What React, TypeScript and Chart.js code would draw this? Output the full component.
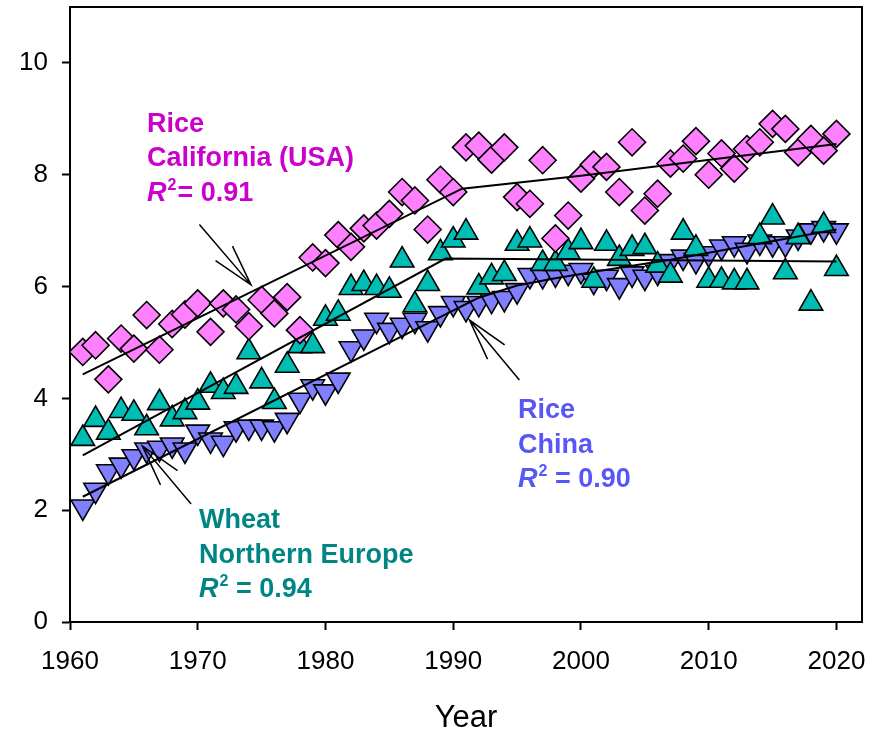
import React, { useEffect, useRef } from 'react';
import { Chart, registerables } from 'chart.js';

Chart.register(...registerables);

// ---------------- DATA ----------------
const years = [
  1961, 1962, 1963, 1964, 1965, 1966, 1967, 1968, 1969, 1970,
  1971, 1972, 1973, 1974, 1975, 1976, 1977, 1978, 1979, 1980,
  1981, 1982, 1983, 1984, 1985, 1986, 1987, 1988, 1989, 1990,
  1991, 1992, 1993, 1994, 1995, 1996, 1997, 1998, 1999, 2000,
  2001, 2002, 2003, 2004, 2005, 2006, 2007, 2008, 2009, 2010,
  2011, 2012, 2013, 2014, 2015, 2016, 2017, 2018, 2019, 2020,
];

const riceCalifornia = [
  4.83, 4.95, 4.34, 5.07, 4.89, 5.49, 4.87, 5.33, 5.5, 5.7,
  5.19, 5.7, 5.59, 5.29, 5.76, 5.52, 5.81, 5.22, 6.52, 6.42,
  6.92, 6.71, 7.04, 7.09, 7.3, 7.69, 7.54, 7.02, 7.91, 7.69,
  8.49, 8.52, 8.27, 8.49, 7.6, 7.48, 8.26, 6.86, 7.27, 7.93,
  8.18, 8.14, 7.69, 8.58, 7.36, 7.66, 8.2, 8.29, 8.6, 8.0,
  8.38, 8.11, 8.46, 8.58, 8.91, 8.82, 8.4, 8.64, 8.43, 8.73,
];

const wheatNorthernEurope = [
  3.28, 3.62, 3.39, 3.78, 3.73, 3.47, 3.92, 3.63, 3.76, 3.93,
  4.23, 4.12, 4.21, 4.83, 4.31, 3.94, 4.59, 4.94, 4.94, 5.43,
  5.52, 5.98, 6.05, 5.98, 5.93, 6.47, 5.67, 6.05, 6.6, 6.83,
  6.97, 5.99, 6.17, 6.23, 6.77, 6.83, 6.41, 6.41, 6.62, 6.8,
  6.11, 6.77, 6.5, 6.68, 6.71, 6.38, 6.2, 6.97, 6.68, 6.11,
  6.11, 6.08, 6.08, 6.89, 7.24, 6.26, 6.89, 5.7, 7.09, 6.32,
];

const riceChina = [
  2.06, 2.36, 2.69, 2.81, 2.96, 3.08, 3.11, 3.17, 3.08, 3.4,
  3.26, 3.2, 3.46, 3.49, 3.49, 3.46, 3.61, 3.97, 4.21, 4.12,
  4.33, 4.89, 5.1, 5.4, 5.22, 5.31, 5.4, 5.25, 5.52, 5.7,
  5.61, 5.7, 5.76, 5.79, 5.93, 6.2, 6.2, 6.23, 6.26, 6.29,
  6.1, 6.17, 6.02, 6.23, 6.17, 6.26, 6.45, 6.53, 6.47, 6.59,
  6.71, 6.77, 6.65, 6.8, 6.77, 6.77, 6.89, 7.0, 7.04, 7.0,
];

// fitted trend lines
const californiaTrendYears = [1961, 1990.7, 2000, 2020];
const californiaTrendValues = [4.43, 7.75, 7.98, 8.55];
const wheatTrendYears = [1961, 1989.4, 2020];
const wheatTrendValues = [2.98, 6.5, 6.45];
const chinaTrendYears = [1961, 1992, 1995, 1998, 2002, 2007, 2020];
const chinaTrendValues = [2.24, 5.8, 6.02, 6.15, 6.3, 6.48, 7.02];

const xTicks = [1960, 1970, 1980, 1990, 2000, 2010, 2020];
const yTicks = [0, 2, 4, 6, 8, 10];

// ---------------- STYLE ----------------
const FONT = '"Liberation Sans", Arial, Helvetica, sans-serif';

const toPoints = (xs: number[], ys: number[]) => xs.map((x, i) => ({ x, y: ys[i] }));

type Note = {
  color: string;
  left: number;
  baseline: number;
  lines: string[];
  r2: string;
  tight: boolean;
  arrow: { tail: [number, number]; tip: [number, number] };
};

const notes: Note[] = [
  {
    color: '#CC00CC',
    left: 147,
    baseline: 131.5,
    lines: ['Rice', 'California (USA)'],
    r2: '0.91',
    tight: true,
    arrow: { tail: [1970.13, 7.11], tip: [1974.17, 6.03] },
  },
  {
    color: '#5757F5',
    left: 518,
    baseline: 418,
    lines: ['Rice', 'China'],
    r2: '0.90',
    tight: false,
    arrow: { tail: [1995.18, 4.33], tip: [1991.27, 5.4] },
  },
  {
    color: '#008585',
    left: 199,
    baseline: 528,
    lines: ['Wheat', 'Northern Europe'],
    r2: '0.94',
    tight: false,
    arrow: { tail: [1969.48, 2.11], tip: [1965.66, 3.15] },
  },
];

const annotationPlugin = {
  id: 'notes',
  afterDatasetsDraw(chart: any) {
    const { ctx, scales } = chart;
    const xs = scales.x;
    const ys = scales.y;
    ctx.save();
    // arrows
    ctx.strokeStyle = '#000';
    ctx.lineWidth = 1.5;
    for (const n of notes) {
      const x1 = xs.getPixelForValue(n.arrow.tail[0]);
      const y1 = ys.getPixelForValue(n.arrow.tail[1]);
      const x2 = xs.getPixelForValue(n.arrow.tip[0]);
      const y2 = ys.getPixelForValue(n.arrow.tip[1]);
      const a = Math.atan2(y1 - y2, x1 - x2);
      const L = 43;
      const h = (15 * Math.PI) / 180;
      ctx.beginPath();
      ctx.moveTo(x1, y1);
      ctx.lineTo(x2, y2);
      ctx.moveTo(x2 + L * Math.cos(a + h), y2 + L * Math.sin(a + h));
      ctx.lineTo(x2, y2);
      ctx.lineTo(x2 + L * Math.cos(a - h), y2 + L * Math.sin(a - h));
      ctx.stroke();
    }
    // texts
    ctx.textAlign = 'left';
    ctx.textBaseline = 'alphabetic';
    const lh = 34.5;
    for (const n of notes) {
      ctx.fillStyle = n.color;
      ctx.font = `bold 27px ${FONT}`;
      n.lines.forEach((t, i) => ctx.fillText(t, n.left, n.baseline + i * lh));
      const by = n.baseline + n.lines.length * lh;
      let x = n.left;
      ctx.font = `italic bold 27px ${FONT}`;
      ctx.fillText('R', x, by);
      x += ctx.measureText('R').width + 1;
      ctx.font = `bold 16px ${FONT}`;
      ctx.fillText('2', x, by - 11);
      x += ctx.measureText('2').width;
      ctx.font = `bold 27px ${FONT}`;
      ctx.fillText((n.tight ? '= ' : ' = ') + n.r2, x + (n.tight ? 1 : 0), by);
    }
    ctx.restore();
  },
  afterDraw(chart: any) {
    const { ctx, chartArea } = chart;
    ctx.save();
    ctx.strokeStyle = '#000';
    ctx.lineWidth = 2;
    ctx.beginPath();
    ctx.moveTo(chartArea.left, chartArea.top);
    ctx.lineTo(chartArea.right, chartArea.top);
    ctx.lineTo(chartArea.right, chartArea.bottom);
    ctx.stroke();
    ctx.restore();
  },
};

export default function App() {
  const ref = useRef<HTMLCanvasElement>(null);

  useEffect(() => {
    document.body.style.margin = '0';
    const canvas = ref.current;
    if (!canvas) return;

    const lineDs = (xs: number[], ys: number[]) => ({
      type: 'line' as const,
      data: toPoints(xs, ys),
      borderColor: '#000',
      borderWidth: 2,
      pointRadius: 0,
      showLine: true,
      fill: false,
      tension: 0,
    });

    const chart = new Chart(canvas, {
      type: 'scatter',
      data: {
        datasets: [
          lineDs(californiaTrendYears, californiaTrendValues) as any,
          lineDs(wheatTrendYears, wheatTrendValues) as any,
          lineDs(chinaTrendYears, chinaTrendValues) as any,
          {
            label: 'Rice California (USA)',
            data: toPoints(years, riceCalifornia),
            pointStyle: 'rectRot',
            pointRadius: 13.5,
            backgroundColor: '#FF80FF',
            borderColor: '#000',
            borderWidth: 1.6,
          },
          {
            label: 'Wheat Northern Europe',
            data: toPoints(years, wheatNorthernEurope),
            pointStyle: 'triangle',
            pointRadius: 13.6,
            backgroundColor: '#00BDB4',
            borderColor: '#000',
            borderWidth: 1.6,
          },
          {
            label: 'Rice China',
            data: toPoints(years, riceChina),
            pointStyle: 'triangle',
            rotation: 180,
            pointRadius: 13.6,
            backgroundColor: '#8080FF',
            borderColor: '#000',
            borderWidth: 1.6,
          },
        ],
      },
      options: {
        responsive: false,
        animation: false,
        devicePixelRatio: 1,
        layout: { autoPadding: false, padding: { top: 7, right: 23, left: 0, bottom: 0 } },
        plugins: {
          legend: { display: false },
          tooltip: { enabled: false },
        },
        scales: {
          x: {
            type: 'linear',
            min: 1960,
            max: 2022,
            afterBuildTicks: (s: any) => {
              s.ticks = xTicks.map((v) => ({ value: v }));
            },
            afterFit: (s: any) => {
              s.height = 114;
              s.paddingLeft = 0;
              s.paddingRight = 0;
            },
            ticks: {
              color: '#000',
              font: { family: FONT, size: 26 },
              padding: 16,
              maxRotation: 0,
              autoSkip: false,
              callback: (v: any) => String(v),
            },
            grid: {
              display: true,
              drawOnChartArea: false,
              drawTicks: true,
              tickLength: 8,
              tickWidth: 2,
              tickColor: '#000',
            },
            border: { display: true, color: '#000', width: 2 },
            title: {
              display: true,
              text: 'Year',
              color: '#000',
              font: { family: FONT, size: 31 },
              padding: { top: 0, bottom: -1 },
            },
          },
          y: {
            type: 'linear',
            min: 0,
            max: 11,
            afterBuildTicks: (s: any) => {
              s.ticks = yTicks.map((v) => ({ value: v }));
            },
            afterFit: (s: any) => {
              s.width = 70;
              s.paddingTop = 0;
              s.paddingBottom = 0;
            },
            ticks: {
              color: '#000',
              font: { family: FONT, size: 26 },
              padding: 14,
              autoSkip: false,
              callback: (v: any) => String(v),
            },
            grid: {
              display: true,
              drawOnChartArea: false,
              drawTicks: true,
              tickLength: 8,
              tickWidth: 2,
              tickColor: '#000',
            },
            border: { display: true, color: '#000', width: 2 },
          },
        },
      },
      plugins: [annotationPlugin],
    });

    return () => chart.destroy();
  }, []);

  return (
    <div style={{ width: 885, height: 736, background: '#fff' }}>
      <canvas ref={ref} width={885} height={736} style={{ display: 'block' }} />
    </div>
  );
}
